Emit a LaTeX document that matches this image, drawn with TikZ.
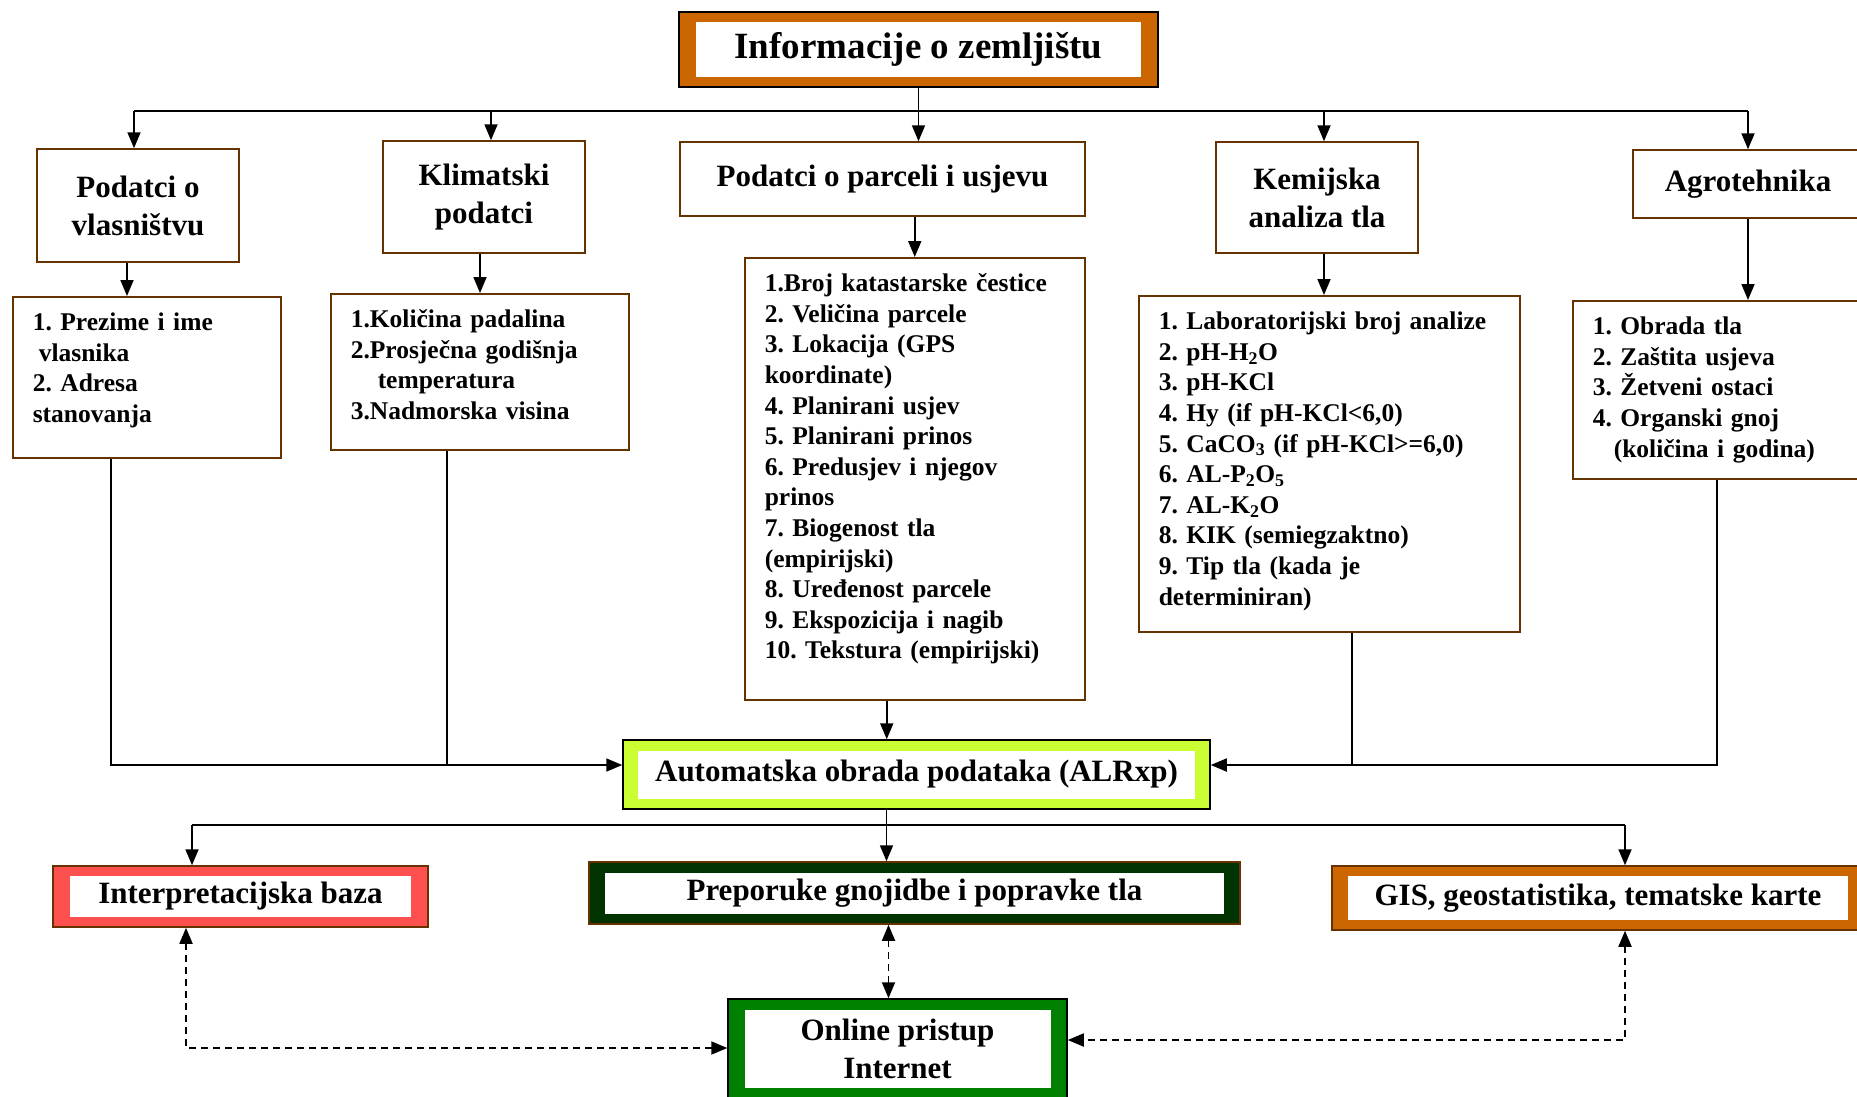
\documentclass[tikz,border=0pt]{standalone}
\usepackage{fontspec}
\setmainfont{Liberation Serif}
\usetikzlibrary{positioning,arrows.meta}
\definecolor{brd}{HTML}{663300}
\definecolor{ochre}{HTML}{CC6600}
\definecolor{chartreuse}{HTML}{CCFF33}
\definecolor{coral}{HTML}{FF5050}
\definecolor{pine}{HTML}{003300}
\definecolor{leaf}{HTML}{008000}
\frenchspacing

\begin{document}
\begin{tikzpicture}[
  x=1pt, y=-1pt,
  line/.style={line width=1.8pt},
  arr/.style={line width=1.8pt, -{Triangle[length=16pt,width=13pt]}},
  darr/.style={line width=1.8pt, dash pattern=on 7pt off 5pt,
    {Triangle[length=16pt,width=13pt]}-{Triangle[length=16pt,width=13pt]}},
  head/.style={draw=brd, line width=1.5pt, align=center, inner sep=0pt,
    font=\fontsize{31}{38}\selectfont\bfseries},
  listbox/.style={draw=brd, line width=1.5pt, anchor=north west, align=left,
    inner xsep=20pt, inner ysep=0pt, text height=34pt,
    font=\fontsize{25.5}{30.6}\selectfont\bfseries},
  frame/.style={fill=#1, draw=black, line width=1.5pt, inner sep=0pt},
  inner/.style={fill=white, inner sep=0pt, align=center,
    font=\fontsize{31}{38}\selectfont\bfseries},
]
\useasboundingbox (0,0) rectangle (1857,1096);

% top
\node[frame=ochre, minimum width=479pt, minimum height=75pt] (info) at (918.5,49.5) {};
\node[inner, minimum width=445pt, minimum height=55pt, font=\fontsize{37}{44}\selectfont\bfseries] (infot) at (info) {Informacije o zemljištu};

% first row
\node[head, minimum width=202pt, minimum height=113pt] (vla) at (138,205.5) {Podatci o\\vlasništvu};
\node[head, minimum width=202pt, minimum height=112pt] (klim) at (484,197) {Klimatski\\podatci};
\node[head, minimum width=405pt, minimum height=74pt] (parc) at (882.5,179) {Podatci o parceli i usjevu};
\node[head, minimum width=202pt, minimum height=111pt] (kem) at (1317,197.5) {Kemijska\\analiza tla};
\node[head, minimum width=230pt, minimum height=68pt] (agro) at (1748,184) {Agrotehnika};

% lists
\node[listbox, text width=228pt, text depth=127pt] (prez) at (12,296)
  {1. Prezime i ime\\\hspace*{6pt}vlasnika\\2. Adresa\\stanovanja};
\node[listbox, text width=258pt, text depth=122pt] (kol) at (330,293)
  {1.Količina padalina\\2.Prosječna godišnja\\\hspace*{27pt}temperatura\\3.Nadmorska visina};
\node[listbox, text width=300pt, text depth=408pt] (broj) at (744,257)
  {1.Broj katastarske čestice\\2. Veličina parcele\\3. Lokacija (GPS\\koordinate)\\4. Planirani usjev\\5. Planirani prinos\\6. Predusjev i njegov\\prinos\\7. Biogenost tla\\(empirijski)\\8. Uređenost parcele\\9. Ekspozicija i nagib\\10. Tekstura (empirijski)};
\node[listbox, text width=341pt, text depth=302pt] (lab) at (1138,295)
  {1. Laboratorijski broj analize\\2. pH-H\textsubscript{2}O\\3. pH-KCl\\4. Hy (if pH-KCl<6,0)\\5. CaCO\textsubscript{3} (if pH-KCl>=6,0)\\6. AL-P\textsubscript{2}O\textsubscript{5}\\7. AL-K\textsubscript{2}O\\8. KIK (semiegzaktno)\\9. Tip tla (kada je\\determiniran)};
\node[listbox, text width=268pt, text depth=144pt] (obr) at (1572,300)
  {1. Obrada tla\\2. Zaštita usjeva\\3. Žetveni ostaci\\4. Organski gnoj\\\hspace*{21pt}(količina i godina)};

% processing
\node[frame=chartreuse, minimum width=587pt, minimum height=69pt] (auto) at (916.5,774.5) {};
\node[inner, minimum width=557pt, minimum height=48pt] (autot) at (auto) {Automatska obrada podataka (ALRxp)};

% outputs
\node[frame=coral, draw=brd, minimum width=375pt, minimum height=61pt] (interp) at (240.5,896.5) {};
\node[inner, minimum width=341pt, minimum height=41pt] (interpt) at (interp) {Interpretacijska baza};
\node[frame=pine, draw=brd, minimum width=651pt, minimum height=62pt] (prep) at (914.5,893) {};
\node[inner, minimum width=619pt, minimum height=41pt] (prept) at (prep) {Preporuke gnojidbe i popravke tla};
\node[frame=ochre, draw=brd, minimum width=532pt, minimum height=64pt] (gis) at (1598,898) {};
\node[inner, minimum width=500pt, minimum height=44pt] (gist) at (gis) {GIS, geostatistika, tematske karte};
\node[frame=leaf, minimum width=339pt, minimum height=100pt] (online) at (897.5,1049) {};
\node[inner, minimum width=306pt, minimum height=78pt] (onlinet) at (online) {Online pristup\\Internet};

% top bus
\coordinate (busL) at (134,111);
\coordinate (busR) at (1748,111);
\draw[line] (busL) -- (busR);
\draw[arr] (info.south) -- (info.south |- parc.north);
\draw[arr] (busL) -- (busL |- vla.north);
\draw[arr] ([xshift=7pt]klim.north |- busL) -- ([xshift=7pt]klim.north);
\draw[arr] ([xshift=7pt]kem.north |- busL) -- ([xshift=7pt]kem.north);
\draw[arr] (busR) -- (agro.north);

\draw[arr] ([xshift=-11pt]vla.south) -- ([xshift=-11pt]vla.south |- prez.north);
\draw[arr] ([xshift=-4pt]klim.south) -- ([xshift=-4pt]klim.south |- kol.north);
\draw[arr] (parc.south -| broj.north) -- (broj.north);
\draw[arr] ([xshift=7pt]kem.south) -- ([xshift=7pt]kem.south |- lab.north);
\draw[arr] (agro.south) -- (agro.south |- obr.north);

% into ALRxp
\coordinate (jl) at (111,765);
\coordinate (jk) at (447,765);
\coordinate (jm) at (1352,765);
\coordinate (jr) at (1717,765);
\draw[arr] (prez.south -| jl) -- (jl) -- (auto.west |- jl);
\draw[line] (kol.south -| jk) -- (jk);
\draw[arr] ([xshift=-28pt]broj.south) -- ([xshift=-28pt]broj.south |- auto.north);
\draw[line] (lab.south -| jm) -- (jm);
\draw[arr] (obr.south -| jr) -- (jr) -- (auto.east |- jr);

% bottom bus
\coordinate (bl) at (192,825);
\coordinate (br) at (1625,825);
\draw[line] (bl) -- (br);
\draw[arr] ([xshift=-30pt]auto.south) -- ([xshift=-30pt]auto.south |- prep.north);
\draw[arr] (bl) -- (bl |- interp.north);
\draw[arr] (br) -- (br |- gis.north);

% online
\coordinate (dl) at (186,1048);
\coordinate (dr) at (1625,1040);
\draw[darr] (interp.south -| dl) -- (dl) -- (online.west |- dl);
\draw[darr] (gis.south -| dr) -- (dr) -- (online.east |- dr);
\draw[darr] ([xshift=-26pt]prep.south) -- ([xshift=-26pt]prep.south |- online.north);
\end{tikzpicture}
\end{document}
